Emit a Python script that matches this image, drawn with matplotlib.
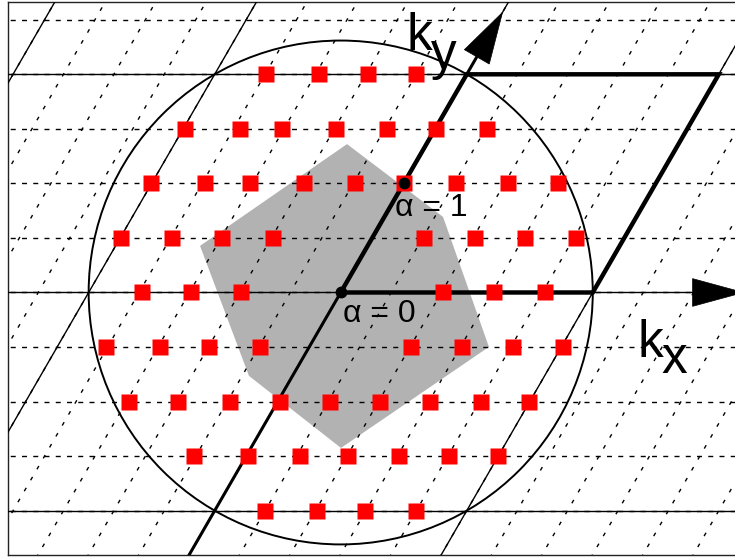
import numpy as np
import matplotlib
matplotlib.use('Agg')
import matplotlib.pyplot as plt
from matplotlib.patches import Polygon, Circle

plt.rcParams['font.family'] = ['Liberation Sans', 'DejaVu Sans']
plt.rcParams['lines.scale_dashes'] = False

# reciprocal lattice vectors, in units of |b1|
b1 = np.array([1.0, 0.0])
b2 = np.array([0.5, np.sqrt(3) / 2])
n_div1, n_div2 = 5, 4          # fine mesh along b1 and b2

# solid lattice lines parallel to b2 (offset along kx at ky = 0)
solid_offsets = [-1.8, -1.0, 0.0, 1.0]
solid_rows = [-1, 0, 1]        # lines parallel to b1, in units of b2

# red k-points, read row by row
row_ky = [0.866, 0.650, 0.433, 0.217, 0.0, -0.217, -0.433, -0.650, -0.866]
row_kx = [
    [-0.296, -0.086, 0.108, 0.299],
    [-0.618, -0.400, -0.233, -0.019, 0.184, 0.378, 0.580],
    [-0.753, -0.539, -0.358, -0.146, 0.057, 0.252, 0.458, 0.664, 0.862],
    [-0.872, -0.670, -0.471, -0.269, 0.331, 0.533, 0.731, 0.934],
    [-0.790, -0.594, -0.397, 0.405, 0.608, 0.810],
    [-0.931, -0.717, -0.523, -0.320, 0.279, 0.481, 0.684, 0.882],
    [-0.840, -0.646, -0.439, -0.241, -0.042, 0.156, 0.354, 0.557, 0.747],
    [-0.582, -0.368, -0.162, 0.029, 0.231, 0.430, 0.624],
    [-0.300, -0.095, 0.096, 0.298],
]

# grey zone
zone_kx = [0.025, 0.406, 0.588, 0.001, -0.364, -0.558]
zone_ky = [0.589, 0.300, -0.216, -0.617, -0.331, 0.185]

# alpha points
alpha_labels = ['α = 0', 'α = 1']
alpha_kx = [0.0, 0.25]
alpha_ky = [0.0, 0.433]

fig = plt.figure(figsize=(7.35, 5.57), dpi=100)
ax = fig.add_axes([8 / 735, 2.5 / 557, 737 / 735, 552.5 / 557])
xmin, xmax = -1.320, 1.604
ymin, ymax = -1.040, 1.153
ax.set_xlim(xmin, xmax)
ax.set_ylim(ymin, ymax)
ax.set_xticks([])
ax.set_yticks([])
for s in ax.spines.values():
    s.set_linewidth(1.0)
    s.set_color('#222222')

big = 4.0

# fine dashed mesh
for j in range(-6, 7):
    y = j * b2[1] / n_div2
    ax.plot([xmin - 1, xmax + 1], [y, y], color='black', lw=1.0,
            ls=(0, (3.6, 4.5)), zorder=2)
for i in range(-14, 15):
    x0 = i * b1[0] / n_div1
    ax.plot([x0 - big * b2[0], x0 + big * b2[0]], [-big * b2[1], big * b2[1]],
            color='black', lw=1.0, ls=(0, (2.8, 6.3)), zorder=2)

# solid lattice lines
for m in solid_rows:
    y = m * b2[1]
    ax.plot([xmin - 1, xmax + 1], [y, y], color='black', lw=1.0, zorder=3)
for x0 in solid_offsets:
    ax.plot([x0 - big * b2[0], x0 + big * b2[0]], [-big * b2[1], big * b2[1]],
            color='black', lw=1.0, zorder=3)

# grey zone
ax.add_patch(Polygon(np.column_stack([zone_kx, zone_ky]), closed=True,
                     facecolor='#b2b2b2', edgecolor='none', zorder=1))

# circle |k| = |b1|
ax.add_patch(Circle((0, 0), 1.0, fill=False, edgecolor='black', lw=1.4, zorder=3))

# ky axis shaft
ky_tip = 1.284
ky_base = 1.08
ax.plot([-2 * b2[0], ky_base * b2[0]], [-2 * b2[1], ky_base * b2[1]],
        color='black', lw=2.2, zorder=4, solid_capstyle='butt')

# unit cell
cell = np.array([[0, 0], b1, b1 + b2, b2])
ax.add_patch(Polygon(cell, closed=True, fill=False, edgecolor='black',
                     lw=3.2, joinstyle='miter', zorder=4))

# arrow heads
def head(direction, t_base, t_tip, half_w):
    d = direction / np.linalg.norm(direction)
    n = np.array([-d[1], d[0]])
    base = d * t_base
    tip = d * t_tip
    return np.array([tip, base + n * half_w, base - n * half_w])

ax.add_patch(Polygon(head(b2, ky_base, ky_tip, 0.057), closed=True,
                     facecolor='black', edgecolor='black', lw=0.5, zorder=4))
ax.add_patch(Polygon(head(b1, 1.396, 1.598, 0.055), closed=True,
                     facecolor='black', edgecolor='black', lw=0.5, zorder=4))

# red k-points
for ky, kxs in zip(row_ky, row_kx):
    ax.plot(kxs, [ky] * len(kxs), ls='none', marker='s', ms=11.2,
            mfc='#ff0000', mec='none', zorder=5)

# alpha points
ax.plot(alpha_kx, alpha_ky, ls='none', marker='o', ms=7.5,
        mfc='black', mec='black', zorder=6)

# labels
ax.text(0.009, -0.117, alpha_labels[0], fontsize=23, ha='left', va='baseline', zorder=7)
ax.text(0.215, 0.304, alpha_labels[1], fontsize=23, ha='left', va='baseline', zorder=7)
ax.text(0.263, 0.962, 'k', fontsize=37, ha='left', va='baseline', zorder=7)
ax.text(0.358, 0.887, 'y', fontsize=37, ha='left', va='baseline', zorder=7)
ax.text(1.177, -0.256, 'k', fontsize=37, ha='left', va='baseline', zorder=7)
ax.text(1.272, -0.319, 'x', fontsize=37, ha='left', va='baseline', zorder=7)

fig.savefig('out.png', dpi=100)
